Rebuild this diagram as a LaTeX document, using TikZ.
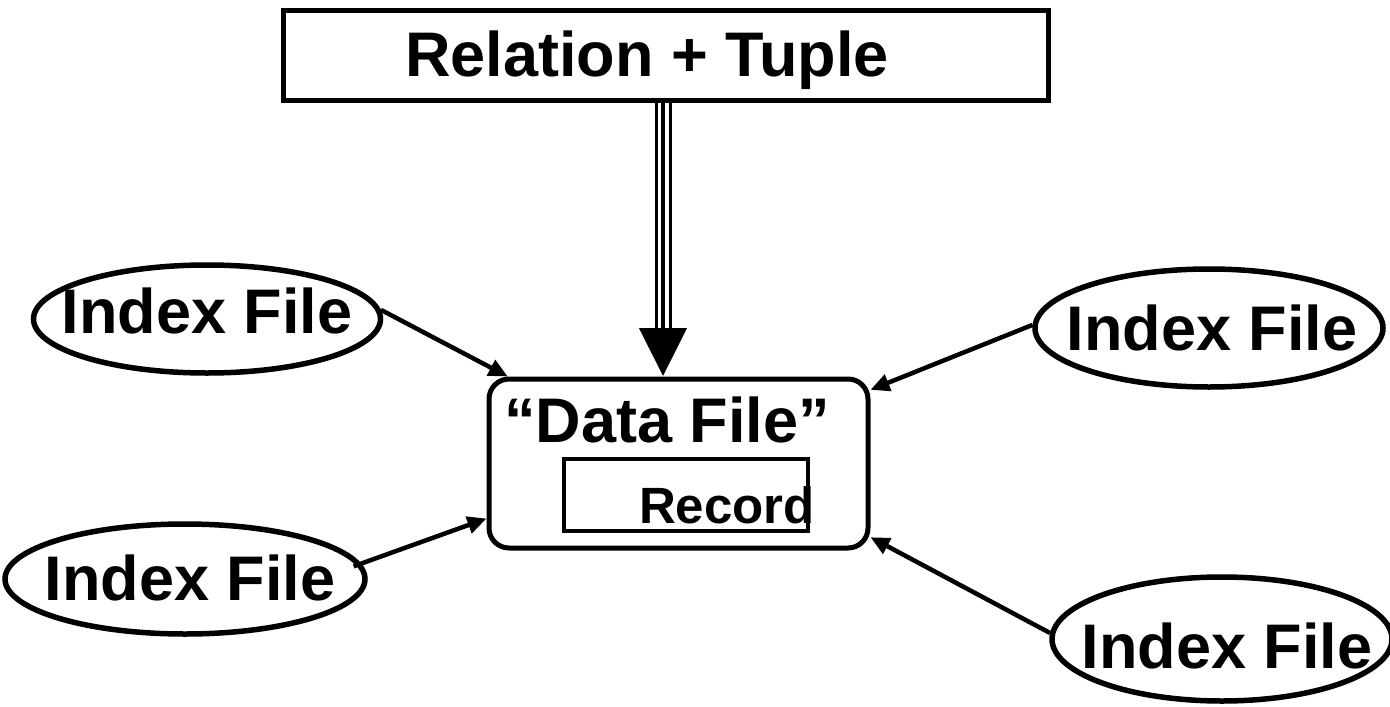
\documentclass[tikz,border=0pt]{standalone}
\usepackage{fontspec}
\setmainfont{Liberation Sans}
\usetikzlibrary{arrows.meta, shapes.geometric, positioning}

\tikzset{
  bigtext/.style={font=\bfseries\fontsize{63}{70}\selectfont, inner sep=0pt},
  smalltext/.style={font=\bfseries\fontsize{51}{56}\selectfont, inner sep=0pt},
  indexfile/.style={draw, ellipse, line width=5.5pt, inner sep=0pt},
  pointer/.style={line width=4.5pt, -{Triangle[length=19pt,width=17pt]}},
}

\begin{document}
\begin{tikzpicture}[x=1pt, y=-1pt]
\useasboundingbox (0,0) rectangle (1390,707);
% top box
\node[draw, line width=5pt, minimum width=765pt, minimum height=90pt, inner sep=0pt] (relation) at (666,55) {};
\node[bigtext, anchor=base] (relationtext) at (647,76) {Relation + Tuple};
% data file with record
\node[draw, rounded corners=20pt, line width=5pt, minimum width=379pt, minimum height=169pt] (data) at (678.5,463.5) {};
\node[bigtext, anchor=base] (datatext) at (667,442) {“Data File”};
\node[draw, line width=4.5pt, minimum width=244pt, minimum height=72pt, inner sep=0pt] (record) at (686,495) {};
\node[smalltext, anchor=base] (recordtext) at (727,523) {Record};
% index files
\node[indexfile, minimum width=347pt, minimum height=108pt] (lt) at (207,319) {};
\node[bigtext, anchor=base] (lttext) at (207,333) {Index File};
\node[indexfile, minimum width=360pt, minimum height=110pt] (lb) at (185,579) {};
\node[bigtext, anchor=base] (lbtext) at (190,600) {Index File};
\node[indexfile, minimum width=348pt, minimum height=118pt] (rt) at (1209,328) {};
\node[bigtext, anchor=base] (rttext) at (1212,350) {Index File};
\node[indexfile, minimum width=340pt, minimum height=124pt] (rb) at (1222,639) {};
\node[bigtext, anchor=base] (rbtext) at (1227,668) {Index File};
% triple arrow
\coordinate (arrowtop) at (663,100);
\coordinate (arrowbase) at (663,330);
\coordinate (arrowtip) at (663,376);
\draw[line width=17pt] (arrowtop) -- (arrowbase);
\draw[white, line width=11pt, shorten <=3pt] (arrowtop) -- (arrowbase);
\draw[line width=4.5pt, -{Triangle[length=48pt,width=47pt]}] (arrowtop) -- (arrowtip);
% pointers
\draw[pointer] (lt.3) -- (data.153);
\draw[pointer, shorten <=-8pt] (lb.5) -- (data.196);
\draw[pointer] (rt.179) -- (data.21);
\draw[pointer] (rb.178) -- (data.-21);
\end{tikzpicture}
\end{document}
